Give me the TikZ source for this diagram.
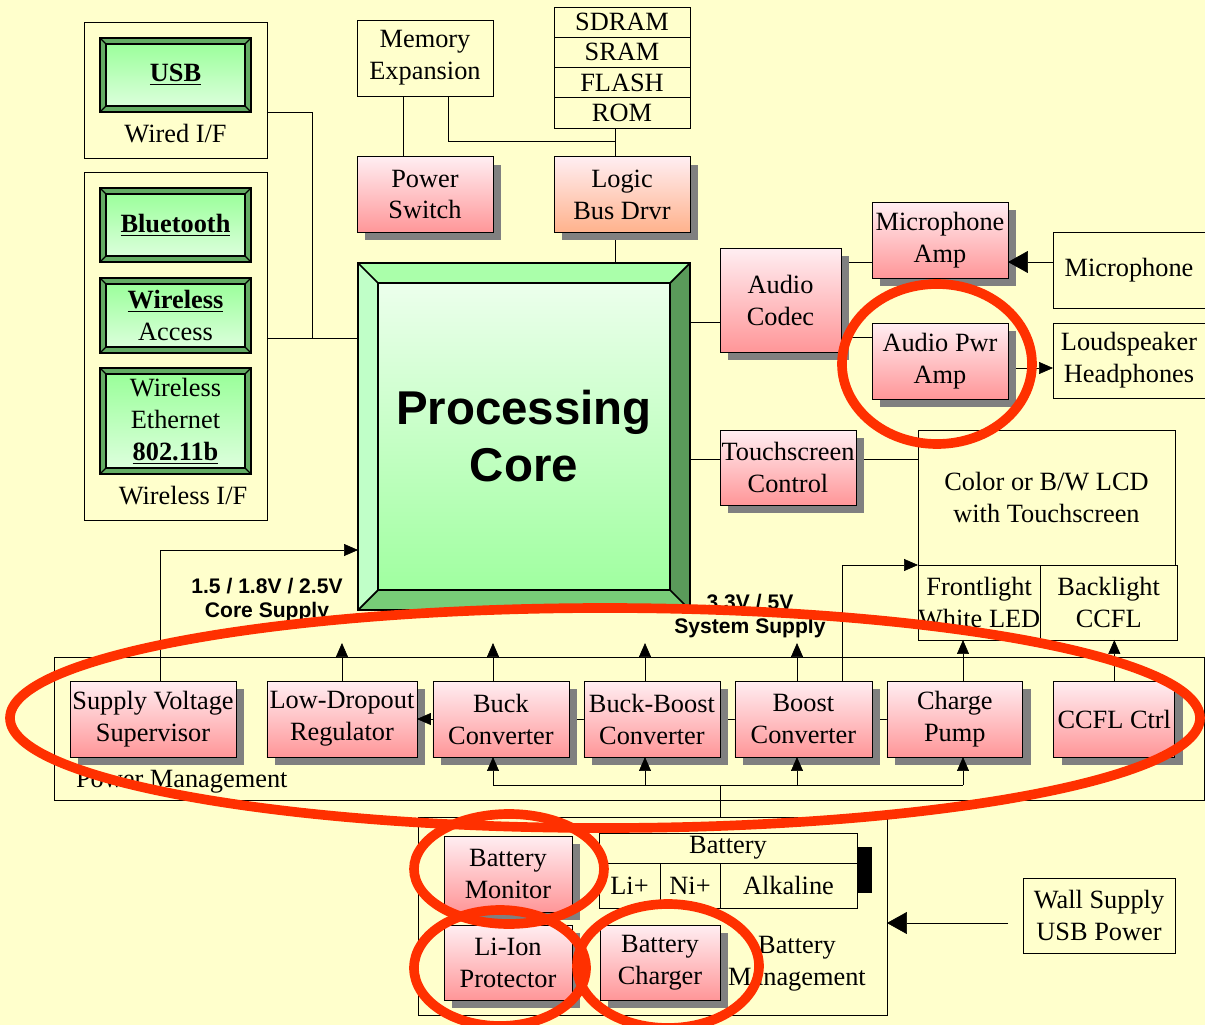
\documentclass[tikz,border=0pt]{standalone}
\usepackage{fontspec}
\setmainfont{Liberation Serif}
\newfontfamily\supplyfont{Liberation Sans}
\usetikzlibrary{positioning,arrows.meta,shadows}

\definecolor{paper}{RGB}{255,255,204}
\definecolor{pinktop}{RGB}{255,238,242}
\definecolor{pinkbot}{RGB}{255,150,152}
\definecolor{peachbot}{RGB}{255,178,140}
\definecolor{shadowgray}{RGB}{128,128,128}
\definecolor{gbevel}{RGB}{100,172,100}
\definecolor{greentop}{RGB}{150,255,150}
\definecolor{greenbot}{RGB}{225,255,225}
\definecolor{coretop}{RGB}{236,255,236}
\definecolor{corebot}{RGB}{160,255,160}
\definecolor{bevtop}{RGB}{170,255,170}
\definecolor{bevleft}{RGB}{192,255,200}
\definecolor{bevright}{RGB}{90,154,90}
\definecolor{bevbot}{RGB}{120,204,120}
\definecolor{markred}{RGB}{255,48,0}

\pgfdeclarelayer{back}
\pgfdeclarelayer{wires}
\pgfsetlayers{back,wires,main}

\begin{document}
\begin{tikzpicture}[x=0.02cm, y=-0.02cm,
  font=\fontsize{15}{18.2}\selectfont,
  line width=1pt,
  every node/.style={inner sep=0pt, outer sep=0pt},
  plainbox/.style={draw, fill=paper, align=center},
  groupbox/.style={draw},
  memcell/.style={draw, fill=paper, minimum width=2.72cm, minimum height=0.605cm},
  pbox/.style={draw, align=center, minimum width=2.72cm, minimum height=1.52cm,
    top color=pinktop, bottom color=pinkbot,
    drop shadow={shadow xshift=0.16cm, shadow yshift=-0.16cm, fill=shadowgray, opacity=1}},
  gbox/.style={draw, line width=1.4pt, fill=gbevel, align=center, minimum width=3.02cm, minimum height=1.48cm,
    path picture={
      \draw[line width=0.7pt, top color=greentop, bottom color=greenbot]
        ([shift={(0.12cm,-0.12cm)}]path picture bounding box.north west) rectangle
        ([shift={(-0.12cm,0.12cm)}]path picture bounding box.south east);
      \draw[line width=0.7pt] (path picture bounding box.north west) -- ++(0.12cm,-0.12cm)
        (path picture bounding box.north east) -- ++(-0.12cm,-0.12cm)
        (path picture bounding box.south west) -- ++(0.12cm,0.12cm)
        (path picture bounding box.south east) -- ++(-0.12cm,0.12cm);
    }},
  corebox/.style={draw, line width=1.2pt, fill=bevtop, align=center, minimum width=6.64cm, minimum height=6.94cm,
    font=\supplyfont\bfseries\fontsize{27}{32.4}\selectfont,
    path picture={
      \fill[bevleft] (path picture bounding box.north west) -- ([shift={(0.4cm,-0.4cm)}]path picture bounding box.north west)
        -- ([shift={(0.4cm,0.4cm)}]path picture bounding box.south west) -- (path picture bounding box.south west) -- cycle;
      \fill[bevright] (path picture bounding box.north east) -- ([shift={(-0.4cm,-0.4cm)}]path picture bounding box.north east)
        -- ([shift={(-0.4cm,0.4cm)}]path picture bounding box.south east) -- (path picture bounding box.south east) -- cycle;
      \fill[bevbot] (path picture bounding box.south west) -- ([shift={(0.4cm,0.4cm)}]path picture bounding box.south west)
        -- ([shift={(-0.4cm,0.4cm)}]path picture bounding box.south east) -- (path picture bounding box.south east) -- cycle;
      \draw[line width=1pt, top color=coretop, bottom color=corebot]
        ([shift={(0.4cm,-0.4cm)}]path picture bounding box.north west) rectangle
        ([shift={(-0.4cm,0.4cm)}]path picture bounding box.south east);
      \draw[line width=1pt] (path picture bounding box.north west) -- ++(0.4cm,-0.4cm)
        (path picture bounding box.north east) -- ++(-0.4cm,-0.4cm)
        (path picture bounding box.south west) -- ++(0.4cm,0.4cm)
        (path picture bounding box.south east) -- ++(-0.4cm,0.4cm);
    }},
  supplylbl/.style={font=\supplyfont\bfseries\fontsize{12}{14}\selectfont, align=center},
  arr/.style={-{Triangle[length=0.28cm, width=0.24cm]}},
  bigarr/.style={-{Triangle[length=0.4cm, width=0.44cm]}},
  redring/.style={draw=markred, line width=5.5pt}
]
\begin{pgfonlayer}{back}
\fill[paper] (0,0) rectangle (1205,1025);
\end{pgfonlayer}
\useasboundingbox (0,0) rectangle (1205,1025);

% interfaces
\node[groupbox, minimum width=3.66cm, minimum height=2.72cm] (wired) at (175.5,90) {};
\node[gbox] (usb) at (175.5,75) {\textbf{\underline{USB}}};
\node (wiredlbl) at (175.5,134) {Wired I/F};
\node[groupbox, minimum width=3.66cm, minimum height=6.96cm] (wless) at (175.5,346) {};
\node[gbox] (bt) at (175.5,225) {\textbf{\underline{Bluetooth}}};
\node[gbox, minimum height=1.5cm] (wacc) at (175.5,315.5) {\textbf{\underline{Wireless}}\\Access};
\node[gbox, minimum height=2.12cm] (weth) at (175.5,421) {Wireless\\Ethernet\\\textbf{\underline{802.11b}}};
\node (wlesslbl) at (183,496) {Wireless I/F};

% memory
\node[plainbox, minimum width=2.72cm, minimum height=1.52cm] (memexp) at (425,58) {Memory\\Expansion};
\node[pbox] (pwrsw) at (425,194.5) {Power\\Switch};
\node[memcell] (sdram) at (622,22) {SDRAM};
\node[memcell, below=0pt of sdram] (sram) {SRAM};
\node[memcell, below=0pt of sram] (flash) {FLASH};
\node[memcell, below=0pt of flash] (rom) {ROM};
\node[pbox, bottom color=peachbot] (logic) at (622,194.5) {Logic\\Bus Drvr};

\node[corebox] (core) at (524,436.5) {Processing\\Core};

% audio
\node[pbox, minimum width=2.42cm, minimum height=2.08cm] (codec) at (780.5,300) {Audio\\Codec};
\node[pbox] (micamp) at (940,240) {Microphone\\Amp};
\node[pbox] (pwramp) at (940,361) {Audio Pwr\\Amp};
\node[plainbox, minimum width=3.04cm, minimum height=1.52cm] (mic) at (1129,270) {Microphone};
\node[plainbox, minimum width=3.04cm, minimum height=1.5cm] (spk) at (1129,360.5) {Loudspeaker\\Headphones};

% display
\node[pbox, minimum height=1.5cm] (touch) at (788,467.5) {Touchscreen\\Control};
\node[plainbox, minimum width=5.14cm, minimum height=2.7cm] (lcd) at (1046.5,497.5) {Color or B/W LCD\\with Touchscreen};
\node[plainbox, minimum width=2.4cm, minimum height=1.5cm, anchor=north west] (front) at (lcd.south west) {Frontlight\\White LED};
\node[plainbox, minimum width=2.74cm, minimum height=1.5cm, right=0pt of front] (back) {Backlight\\CCFL};

% power management
\node[groupbox, minimum width=23cm, minimum height=2.86cm] (pm) at (629,728.5) {};
\node[anchor=west] (pmlbl) at (76,782) {Power Management};
\node[pbox, minimum width=3.32cm] (svs) at (153,719) {Supply Voltage\\Supervisor};
\node[pbox, minimum width=3cm, right=0.62cm of svs] (ldo) {Low-Dropout\\Regulator};
\node[pbox, right=0.32cm of ldo] (buck) {Buck\\Converter};
\node[pbox, right=0.3cm of buck] (bb) {Buck-Boost\\Converter};
\node[pbox, minimum width=2.74cm, right=0.3cm of bb] (boost) {Boost\\Converter};
\node[pbox, right=0.3cm of boost] (cp) {Charge\\Pump};
\node[pbox, minimum width=2.42cm, right=0.62cm of cp] (ccfl) {CCFL Ctrl};
\node[supplylbl] (corelbl) at (267,600) {1.5 / 1.8V / 2.5V\\Core Supply};
\node[supplylbl] (syslbl) at (750,616) {3.3V / 5V\\System Supply};

% battery management
\node[groupbox, minimum width=9.38cm, minimum height=3.96cm] (bm) at (652.5,916) {};
\node[align=center] (bmlbl) at (797,964) {Battery\\Management};
\node[pbox, minimum width=2.56cm] (batmon) at (508,874) {Battery\\Monitor};
\node[pbox, minimum width=2.56cm, minimum height=1.5cm] (liion) at (508,962.5) {Li-Ion\\Protector};
\node[pbox, minimum width=2.4cm, minimum height=1.5cm] (charger) at (660,962.5) {Battery\\Charger};
\node[plainbox, minimum width=5.16cm, minimum height=0.6cm] (batt) at (728,848) {Battery};
\node[plainbox, minimum width=1.22cm, minimum height=0.9cm, anchor=north west] (li) at (batt.south west) {Li+};
\node[plainbox, minimum width=1.2cm, minimum height=0.9cm, right=0pt of li] (ni) {Ni+};
\node[plainbox, minimum width=2.74cm, minimum height=0.9cm, right=0pt of ni] (alk) {Alkaline};
\node[fill=black, minimum width=0.3cm, minimum height=0.92cm] (term) at (864.5,870) {};
\node[plainbox, minimum width=3.04cm, minimum height=1.5cm] (wall) at (1099,915.5) {Wall Supply\\USB Power};

% bus points
\coordinate (ifbus) at (312,338);
\coordinate (membus) at (615,141);
\coordinate (codecy) at (0,322);
\coordinate (micy) at (0,262);
\coordinate (ampiny) at (0,337);
\coordinate (spky) at (0,368);
\coordinate (touchy) at (0,459);
\coordinate (coresup) at (160,550);
\coordinate (sysrail) at (0,643);
\coordinate (pmbus) at (720,785);
\coordinate (wally) at (0,923);
\coordinate (bux) at (493,0);
\coordinate (bbx) at (645,0);
\coordinate (boostx) at (797,0);
\coordinate (cpx) at (963,0);
\coordinate (blx) at (842,0);

\begin{pgfonlayer}{wires}
\draw (wired.east |- usb.south) -| (ifbus);
\draw (wless.east |- ifbus) -- (core.west |- ifbus);
\draw ([xshift=-0.44cm]memexp.south) -- ([xshift=-0.44cm]pwrsw.north);
\draw ([xshift=0.46cm]memexp.south) |- (membus);
\draw (rom.south -| membus) -- (logic.north -| membus);
\draw (logic.south -| membus) -- (core.north -| membus);
\draw (core.east |- codecy) -- (codec.west |- codecy);
\draw (codec.east |- micy) -- (micamp.west |- micy);
\draw (codec.east |- ampiny) -- (pwramp.west |- ampiny);
\draw[arr] (pwramp.east |- spky) -- (spk.west |- spky);
\draw (core.east |- touchy) -- (touch.west |- touchy);
\draw (touch.east |- touchy) -- (lcd.west |- touchy);
\draw[arr] (svs.north -| coresup) |- (core.west |- coresup);
\draw (buck.east) -- (bb.west);
\draw (bb.east) -- (boost.west);
\draw (boost.east) -- (cp.west);
\draw[arr] (boost.north -| blx) |- (front.north west);
\draw (bux |- pmbus) -- (cpx |- pmbus);
\draw (pmbus) -- (bm.north -| pmbus);
\end{pgfonlayer}

\draw[arr] (ldo.north) -- (ldo.north |- sysrail);
\draw[arr] (buck.north -| bux) -- (bux |- sysrail);
\draw[arr] (bb.north -| bbx) -- (bbx |- sysrail);
\draw[arr] (boost.north -| boostx) -- (boostx |- sysrail);
\draw[arr] (cp.north -| cpx) -- (front.south -| cpx);
\draw[arr] (ccfl.north) -- (ccfl.north |- back.south);
\draw[arr] (bux |- pmbus) -- (buck.south -| bux);
\draw[arr] (bbx |- pmbus) -- (bb.south -| bbx);
\draw[arr] (boostx |- pmbus) -- (boost.south -| boostx);
\draw[arr] (cpx |- pmbus) -- (cp.south -| cpx);
\draw[arr] (buck.west) -- (ldo.east);
\draw[bigarr] (mic.west |- micy) -- (micamp.east |- micy);
\draw[bigarr, shorten <=0.3cm] (wall.west |- wally) -- (bm.east |- wally);

% highlights
\draw[redring] (605,718) ellipse [x radius=595, y radius=110];
\draw[redring] (937,364) ellipse [x radius=95, y radius=80];
\draw[redring] (509,869) ellipse [x radius=95, y radius=55];
\draw[redring] (500,968) ellipse [x radius=86, y radius=58];
\draw[redring] (668,966) ellipse [x radius=91, y radius=62];
\end{tikzpicture}
\end{document}
